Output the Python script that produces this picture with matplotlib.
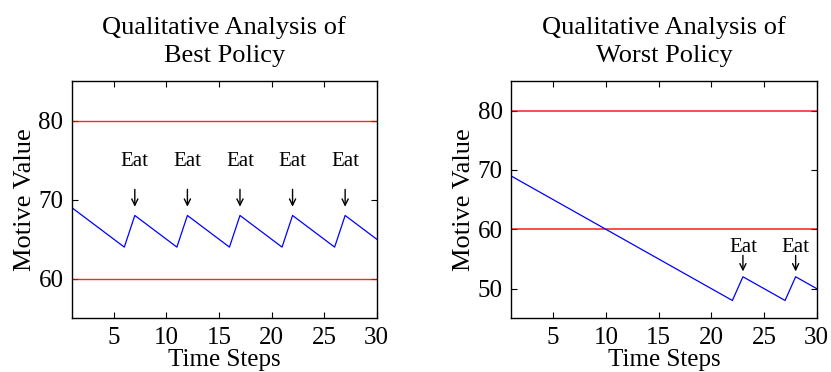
import matplotlib
matplotlib.use("Agg")
import matplotlib.pyplot as plt

plt.rcParams['font.family'] = ['Liberation Serif', 'DejaVu Serif']

steps = list(range(1, 31))
best_values = [69, 68, 67, 66, 65, 64, 68, 67, 66, 65, 64, 68, 67, 66, 65, 64,
               68, 67, 66, 65, 64, 68, 67, 66, 65, 64, 68, 67, 66, 65]
worst_values = [69, 68, 67, 66, 65, 64, 63, 62, 61, 60, 59, 58, 57, 56, 55, 54,
                53, 52, 51, 50, 49, 48, 52, 51, 50, 49, 48, 52, 51, 50]
best_eat_steps = [7, 12, 17, 22, 27]
worst_eat_steps = [23, 28]
thresholds = [80, 60]
titles = ["Qualitative Analysis of\nBest Policy", "Qualitative Analysis of\nWorst Policy"]
xticks = [5, 10, 15, 20, 25, 30]
best_yticks = [60, 70, 80]
worst_yticks = [50, 60, 70, 80]

fig = plt.figure(figsize=(8.31, 3.72), dpi=100)
ax1 = fig.add_axes([0.0863, 0.1444, 0.367, 0.6378])
ax2 = fig.add_axes([0.615, 0.1444, 0.3678, 0.6378])

def style(ax, title, yticks, ylim):
    ax.set_xlim(1, 30)
    ax.set_ylim(*ylim)
    ax.set_xticks(xticks)
    ax.set_yticks(yticks)
    ax.tick_params(direction='in', top=True, right=True, length=4, width=0.8,
                   labelsize=18)
    ax.tick_params(axis='x', pad=6)
    ax.tick_params(axis='y', pad=6)
    for s in ax.spines.values():
        s.set_linewidth(1.0)
    ax.set_title(title, fontsize=19, linespacing=1.35, pad=14)
    ax.set_xlabel("Time Steps", fontsize=18, labelpad=0)
    ax.set_ylabel("Motive Value", fontsize=19, labelpad=2)

def eat_marks(ax, xs, y_text, y_top, y_tip):
    for s in xs:
        ax.text(s, y_text, "Eat", ha='center', va='center', fontsize=15)
        ax.annotate("", xy=(s, y_tip), xytext=(s, y_top),
                    arrowprops=dict(arrowstyle='->,head_length=0.45,head_width=0.22',
                                    color='black', lw=1.0, shrinkA=0, shrinkB=0))

# Best policy
for t in thresholds:
    ax1.axhline(t, color='#ff0000', lw=1.0, alpha=0.85)
ax1.plot(steps, best_values, color='#0000ff', lw=0.9)
eat_marks(ax1, best_eat_steps, 74.8, 71.3, 69.1)
style(ax1, titles[0], best_yticks, (55, 85))

# Worst policy
for t in thresholds:
    ax2.axhline(t, color='#ff0000', lw=1.4, alpha=0.7)
ax2.plot(steps, worst_values, color='#0000ff', lw=0.9)
eat_marks(ax2, worst_eat_steps, 56.9, 55.6, 52.9)
style(ax2, titles[1], worst_yticks, (45, 85))

fig.savefig("out.png", dpi=100)
